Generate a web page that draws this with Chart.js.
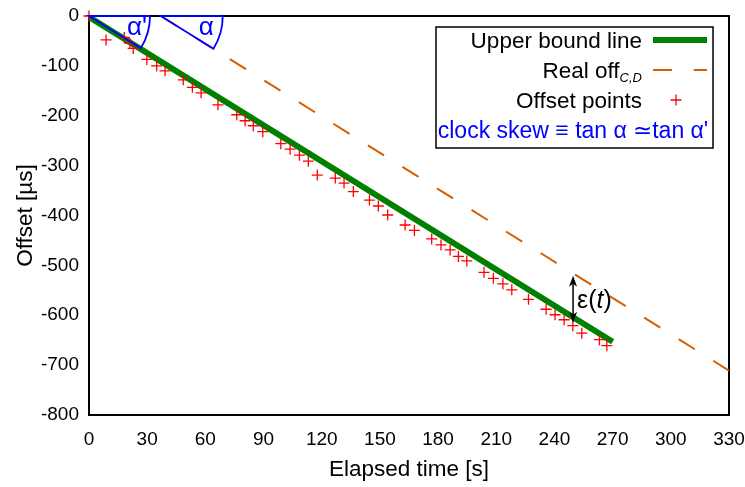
<!DOCTYPE html>
<html><head><meta charset="utf-8">
<script src="https://cdn.jsdelivr.net/npm/chart.js@4.4.1/dist/chart.umd.min.js"></script>
<style>html,body{margin:0;padding:0;background:#fff;}#wrap{width:745px;height:487px;}</style>
</head><body><div id="wrap"><canvas id="c" width="745" height="487"></canvas></div>
<script>
const xTicks = [0,30,60,90,120,150,180,210,240,270,300,330];
const yTicks = [-800,-700,-600,-500,-400,-300,-200,-100,0];
const boundTime = [0, 270];
const boundOffset = [-2, -653];
const realTime = [37, 330];
const realOffset = [0, -711];
const pointTime = [0, 8.8, 18.2, 21.1, 22.8, 29.8, 34.9, 39.2, 48.6, 53.3, 57.8, 66.5, 76.2, 80.5, 84.7, 89.6, 98.9, 103.7, 108.5, 113.1, 117.7, 127, 131.5, 136.3, 144.6, 149.2, 154, 163, 167.8, 176.7, 181.5, 186.2, 190.5, 194.8, 203.7, 208.5, 213.4, 218, 226.6, 235.7, 240.3, 245, 249.5, 254.1, 263.2, 267];
const pointOffset = [0, -48, -43, -55, -65, -87, -100, -110, -128, -143, -154, -178, -198, -210, -220, -232, -256, -267, -279, -291, -319, -325, -335, -352, -369, -381, -399, -419, -430, -447, -459, -469, -482, -491, -514, -526, -537, -549, -568, -588, -599, -609, -621, -636, -649, -661];
const epsTime = 249.6;
const epsRange = [-521, -615];
const seriesLabels = ['Upper bound line', 'Real off', 'Offset points'];
const realSub = 'C,D';
const skewText = 'clock skew \u2261 tan \u03b1 \u2243tan \u03b1\'';
const xTitle = 'Elapsed time [s]';
const yTitle = 'Offset [\u00b5s]';

const FONT = '"Liberation Sans", Arial, sans-serif';
const zip = (a, b) => a.map((v, i) => ({x: v, y: b[i]}));

const framePlugin = {
  id: 'frame',
  beforeDatasetsDraw(chart) {
    const {ctx, chartArea: a} = chart;
    ctx.save();
    ctx.strokeStyle = '#000';
    ctx.lineWidth = 2;
    ctx.strokeRect(a.left, a.top, a.right - a.left, a.bottom - a.top);
    ctx.restore();
  }
};

const annotPlugin = {
  id: 'annot',
  afterDatasetsDraw(chart) {
    const {ctx, scales: {x, y}, chartArea: a} = chart;
    const x0 = x.getPixelForValue(boundTime[0]), y0 = y.getPixelForValue(boundOffset[0]);
    const x1 = x.getPixelForValue(boundTime[1]), y1 = y.getPixelForValue(boundOffset[1]);
    const ang = Math.atan2(y1 - y0, x1 - x0);
    const top = a.top;
    ctx.save();
    ctx.strokeStyle = '#0000ff';
    ctx.fillStyle = '#0000ff';
    ctx.lineWidth = 1.8;
    function wedge(vx, r, label) {
      ctx.beginPath();
      ctx.moveTo(vx + r, top);
      ctx.lineTo(vx, top);
      ctx.lineTo(vx + r * Math.cos(ang), top + r * Math.sin(ang));
      ctx.arc(vx, top, r, ang, 0, true);
      ctx.stroke();
      ctx.font = '26px ' + FONT;
      ctx.textAlign = 'left';
      ctx.textBaseline = 'alphabetic';
      ctx.fillText(label, vx + 38, top + 19);
    }
    wedge(x.getPixelForValue(pointTime[0]), 61, '\u03b1\'');
    wedge(x.getPixelForValue(realTime[0]), 62, '\u03b1');
    // epsilon arrow
    const ex = x.getPixelForValue(epsTime);
    const ya = y.getPixelForValue(epsRange[0]), yb = y.getPixelForValue(epsRange[1]);
    ctx.strokeStyle = '#000'; ctx.fillStyle = '#000'; ctx.lineWidth = 1.5;
    ctx.beginPath(); ctx.moveTo(ex, ya + 6); ctx.lineTo(ex, yb - 6); ctx.stroke();
    const head = (yt, dir) => {
      ctx.beginPath();
      ctx.moveTo(ex, yt);
      ctx.lineTo(ex - 4, yt + dir * 11);
      ctx.lineTo(ex, yt + dir * 8);
      ctx.lineTo(ex + 4, yt + dir * 11);
      ctx.closePath(); ctx.fill();
    };
    head(ya, 1); head(yb, -1);
    const mid = (ya + yb) / 2;
    let lx = ex + 4;
    const bl = mid + 9;
    ctx.textAlign = 'left'; ctx.textBaseline = 'alphabetic';
    ctx.font = '25px ' + FONT;
    ctx.fillText('\u03b5(', lx, bl); lx += ctx.measureText('\u03b5(').width;
    ctx.font = 'italic 25px ' + FONT;
    ctx.fillText('t', lx, bl); lx += ctx.measureText('t').width;
    ctx.font = '25px ' + FONT;
    ctx.fillText(')', lx, bl);
    ctx.restore();
  }
};

const legendPlugin = {
  id: 'gleg',
  afterDraw(chart) {
    const {ctx} = chart;
    const ds = chart.data.datasets;
    ctx.save();
    ctx.strokeStyle = '#000'; ctx.lineWidth = 1.5;
    ctx.strokeRect(436, 27, 277, 121);
    const textR = 642, s0 = 653, s1 = 707;
    const rows = [40, 70, 100, 130];
    const off = 8;
    ctx.textBaseline = 'alphabetic';
    ctx.fillStyle = '#000';
    ctx.font = '22.5px ' + FONT; ctx.textAlign = 'right';
    ctx.fillText(ds[0].label, textR, rows[0] + off);
    ctx.font = 'italic 13px ' + FONT;
    const sw = ctx.measureText(realSub).width;
    ctx.textAlign = 'left';
    ctx.fillText(realSub, textR - sw, rows[1] + off + 4);
    ctx.font = '22.5px ' + FONT; ctx.textAlign = 'right';
    ctx.fillText(ds[1].label, textR - sw, rows[1] + off);
    ctx.fillText(ds[2].label, textR, rows[2] + off);
    ctx.fillStyle = '#0000ff'; ctx.textAlign = 'center';
    ctx.font = '23px ' + FONT;
    ctx.fillText(skewText, 573, rows[3] + off);
    // samples
    ctx.strokeStyle = ds[0].borderColor; ctx.lineWidth = ds[0].borderWidth;
    ctx.beginPath(); ctx.moveTo(s0, rows[0]); ctx.lineTo(s1, rows[0]); ctx.stroke();
    ctx.strokeStyle = ds[1].borderColor; ctx.lineWidth = ds[1].borderWidth;
    ctx.setLineDash(ds[1].borderDash);
    ctx.beginPath(); ctx.moveTo(s0, rows[1]); ctx.lineTo(s1, rows[1]); ctx.stroke();
    ctx.setLineDash([]);
    ctx.strokeStyle = ds[2].borderColor; ctx.lineWidth = ds[2].borderWidth;
    const r = ds[2].pointRadius, cx = 676;
    ctx.beginPath(); ctx.moveTo(cx - r, rows[2]); ctx.lineTo(cx + r, rows[2]);
    ctx.moveTo(cx, rows[2] - r); ctx.lineTo(cx, rows[2] + r); ctx.stroke();
    ctx.restore();
  }
};

new Chart(document.getElementById('c'), {
  type: 'scatter',
  data: {
    datasets: [
      {label: seriesLabels[0], data: zip(boundTime, boundOffset), showLine: true,
       borderColor: '#008000', borderWidth: 6, pointRadius: 0, order: 1},
      {label: seriesLabels[1], data: zip(realTime, realOffset), showLine: true,
       borderColor: '#d55e00', borderWidth: 2, borderDash: [19, 21.7], pointRadius: 0, order: 2},
      {label: seriesLabels[2], data: zip(pointTime, pointOffset), showLine: false,
       pointStyle: 'cross', pointRadius: 5.5, borderColor: '#ff0000', backgroundColor: '#ff0000',
       borderWidth: 1.3, clip: false, order: 0}
    ]
  },
  options: {
    responsive: false, animation: false, devicePixelRatio: 1,
    layout: {padding: 0},
    plugins: {legend: {display: false}, tooltip: {enabled: false}},
    scales: {
      x: {
        type: 'linear', min: 0, max: 330,
        grid: {display: false, drawTicks: false}, border: {display: false},
        afterBuildTicks: s => { s.ticks = xTicks.map(v => ({value: v})); },
        afterFit: s => { s.height = 72; s.paddingLeft = 0; s.paddingRight = 16; },
        ticks: {font: {family: FONT, size: 19}, color: '#000', padding: 13, maxRotation: 0, autoSkip: false},
        title: {display: true, text: xTitle, color: '#000', font: {family: FONT, size: 22.5}, padding: {top: 0, bottom: 4}}
      },
      y: {
        type: 'linear', min: -800, max: 0,
        grid: {display: false, drawTicks: false}, border: {display: false},
        afterBuildTicks: s => { s.ticks = yTicks.map(v => ({value: v})); },
        afterFit: s => { s.width = 89; s.paddingTop = 16; s.paddingBottom = 0; },
        ticks: {font: {family: FONT, size: 19}, color: '#000', padding: 10, autoSkip: false},
        title: {display: true, text: yTitle, color: '#000', font: {family: FONT, size: 22.5}, padding: {top: 12, bottom: 0}}
      }
    }
  },
  plugins: [framePlugin, annotPlugin, legendPlugin]
});
</script></body></html>
